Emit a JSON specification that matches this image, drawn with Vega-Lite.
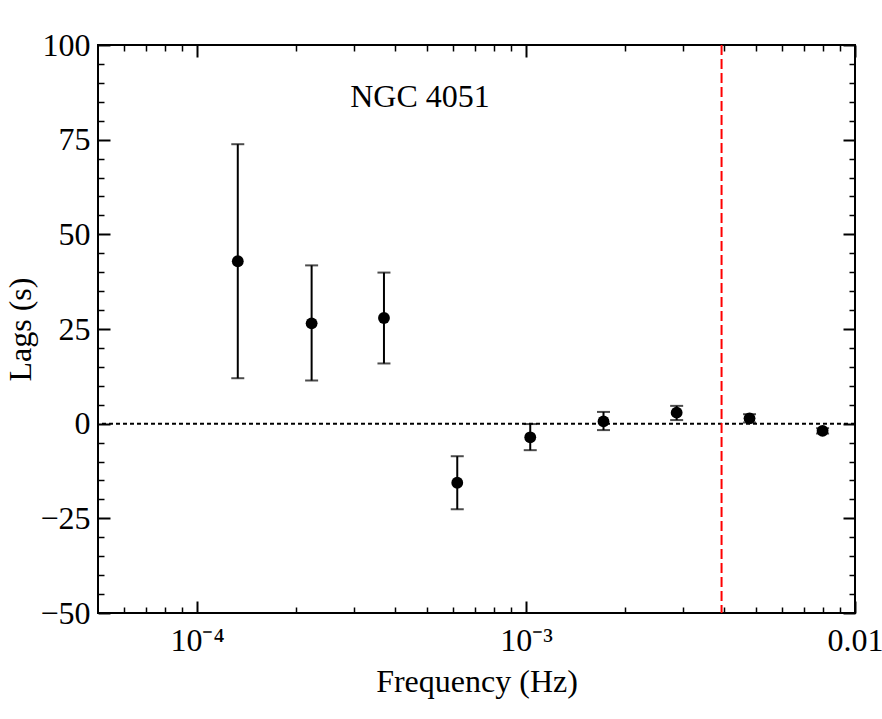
{
  "$schema": "https://vega.github.io/schema/vega-lite/v6.json",
  "width": 757,
  "height": 568,
  "autosize": "none",
  "padding": {"left": 98, "top": 45, "right": 27, "bottom": 106},
  "background": "white",
  "config": {
    "view": {"stroke": "black", "strokeWidth": 2},
    "font": "Liberation Serif",
    "axis": {
      "grid": false,
      "domain": false,
      "labelFont": "Liberation Serif",
      "titleFont": "Liberation Serif",
      "labelColor": "black",
      "titleColor": "black",
      "tickColor": "black",
      "labelFontSize": 32,
      "titleFontSize": 32,
      "titleFontWeight": "normal",
      "labelFlush": false,
      "labelOverlap": false
    }
  },
  "datasets": {
    "lags": [
      {"f": 0.000133, "lag": 42.9, "hi": 73.8, "lo": 12.0},
      {"f": 0.000223, "lag": 26.5, "hi": 41.8, "lo": 11.4},
      {"f": 0.000370, "lag": 27.9, "hi": 39.9, "lo": 15.9},
      {"f": 0.000618, "lag": -15.6, "hi": -8.6, "lo": -22.6},
      {"f": 0.00103, "lag": -3.6, "hi": -0.1, "lo": -7.0},
      {"f": 0.00172, "lag": 0.6, "hi": 3.1, "lo": -1.7},
      {"f": 0.00287, "lag": 2.9, "hi": 4.7, "lo": 0.95},
      {"f": 0.00478, "lag": 1.4, "hi": 2.5, "lo": 0.3},
      {"f": 0.00797, "lag": -1.9, "hi": -1.2, "lo": -2.6}
    ]
  },
  "data": {"name": "lags"},
  "resolve": {"axis": {"x": "independent", "y": "independent"}},
  "layer": [
    {
      "data": {"values": [{}]},
      "mark": {"type": "rule", "color": "black", "strokeWidth": 2, "strokeDash": [4, 3]},
      "encoding": {
        "y": {"datum": 0, "type": "quantitative", "scale": {"domain": [-50, 100], "nice": false}, "axis": null}
      }
    },
    {
      "data": {"values": [{}]},
      "mark": {"type": "rule", "color": "#ff0000", "strokeWidth": 2, "strokeDash": [10, 4]},
      "encoding": {
        "x": {"datum": 0.00393, "type": "quantitative", "scale": {"type": "log", "domain": [0.00005, 0.01], "nice": false}, "axis": null}
      }
    },
    {
      "mark": {"type": "rule", "color": "black", "strokeWidth": 2},
      "encoding": {
        "x": {
          "field": "f", "type": "quantitative",
          "scale": {"type": "log", "domain": [0.00005, 0.01], "nice": false},
          "axis": {
            "orient": "bottom", "values": [0.0001, 0.001, 0.01], "tickSize": -12, "tickWidth": 2,
            "labelPadding": 24, "title": "Frequency (Hz)", "titlePadding": 10,
            "labelExpr": "datum.value < 0.0005 ? '10⁻⁴' : datum.value < 0.005 ? '10⁻³' : '0.01'"
          }
        },
        "y": {
          "field": "lo", "type": "quantitative",
          "scale": {"domain": [-50, 100], "nice": false},
          "axis": {
            "orient": "left", "values": [-50, -25, 0, 25, 50, 75, 100], "tickSize": -12, "tickWidth": 2,
            "labelPadding": 20, "title": "Lags (s)", "titlePadding": 2
          }
        },
        "y2": {"field": "hi"}
      }
    },
    {
      "mark": {"type": "tick", "orient": "horizontal", "color": "black", "size": 13, "thickness": 2},
      "encoding": {
        "x": {
          "field": "f", "type": "quantitative",
          "scale": {"type": "log", "domain": [0.00005, 0.01], "nice": false},
          "axis": {
            "orient": "bottom", "labels": false, "title": null, "tickSize": -6, "tickWidth": 1.5,
            "values": [0.00006, 0.00007, 0.00008, 0.00009, 0.0002, 0.0003, 0.0004, 0.0005, 0.0006, 0.0007, 0.0008, 0.0009, 0.002, 0.003, 0.004, 0.005, 0.006, 0.007, 0.008, 0.009]
          }
        },
        "y": {
          "field": "hi", "type": "quantitative",
          "scale": {"domain": [-50, 100], "nice": false},
          "axis": {
            "orient": "left", "labels": false, "title": null, "tickSize": -6, "tickWidth": 1.5,
            "values": [-45, -40, -35, -30, -20, -15, -10, -5, 5, 10, 15, 20, 30, 35, 40, 45, 55, 60, 65, 70, 80, 85, 90, 95]
          }
        }
      }
    },
    {
      "mark": {"type": "tick", "orient": "horizontal", "color": "black", "size": 13, "thickness": 2},
      "encoding": {
        "x": {
          "field": "f", "type": "quantitative",
          "scale": {"type": "log", "domain": [0.00005, 0.01], "nice": false},
          "axis": {"orient": "top", "labels": false, "title": null, "tickSize": -12, "tickWidth": 2, "values": [0.0001, 0.001, 0.01]}
        },
        "y": {
          "field": "lo", "type": "quantitative",
          "scale": {"domain": [-50, 100], "nice": false},
          "axis": {"orient": "right", "labels": false, "title": null, "tickSize": -12, "tickWidth": 2, "values": [-50, -25, 0, 25, 50, 75, 100]}
        }
      }
    },
    {
      "mark": {"type": "circle", "color": "black", "opacity": 1, "size": 140},
      "encoding": {
        "x": {
          "field": "f", "type": "quantitative",
          "scale": {"type": "log", "domain": [0.00005, 0.01], "nice": false},
          "axis": {
            "orient": "top", "labels": false, "title": null, "tickSize": -6, "tickWidth": 1.5,
            "values": [0.00006, 0.00007, 0.00008, 0.00009, 0.0002, 0.0003, 0.0004, 0.0005, 0.0006, 0.0007, 0.0008, 0.0009, 0.002, 0.003, 0.004, 0.005, 0.006, 0.007, 0.008, 0.009]
          }
        },
        "y": {
          "field": "lag", "type": "quantitative",
          "scale": {"domain": [-50, 100], "nice": false},
          "axis": {
            "orient": "right", "labels": false, "title": null, "tickSize": -6, "tickWidth": 1.5,
            "values": [-45, -40, -35, -30, -20, -15, -10, -5, 5, 10, 15, 20, 30, 35, 40, 45, 55, 60, 65, 70, 80, 85, 90, 95]
          }
        }
      }
    },
    {
      "data": {"values": [{}]},
      "mark": {"type": "text", "font": "Liberation Serif", "fontSize": 32, "color": "black", "align": "center", "baseline": "alphabetic"},
      "encoding": {
        "x": {"datum": 0.000476, "type": "quantitative", "axis": null},
        "y": {"datum": 83.6, "type": "quantitative", "axis": null},
        "text": {"value": "NGC 4051"}
      }
    }
  ]
}
